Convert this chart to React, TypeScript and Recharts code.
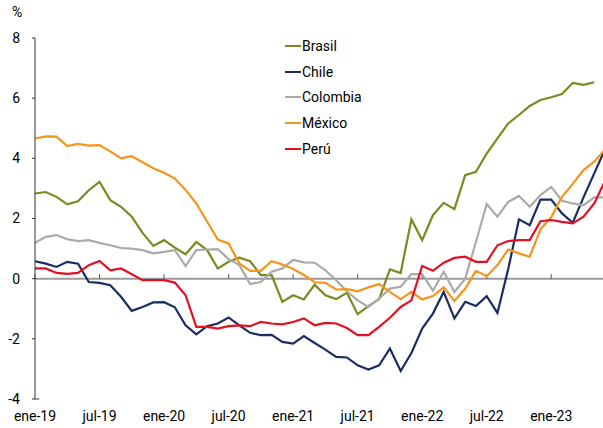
import { LineChart, Line, XAxis, YAxis, ReferenceLine, Legend } from 'recharts';

const months = [
  'ene-19', 'feb-19', 'mar-19', 'abr-19', 'may-19', 'jun-19', 'jul-19', 'ago-19', 'sep-19', 'oct-19', 'nov-19', 'dic-19',
  'ene-20', 'feb-20', 'mar-20', 'abr-20', 'may-20', 'jun-20', 'jul-20', 'ago-20', 'sep-20', 'oct-20', 'nov-20', 'dic-20',
  'ene-21', 'feb-21', 'mar-21', 'abr-21', 'may-21', 'jun-21', 'jul-21', 'ago-21', 'sep-21', 'oct-21', 'nov-21', 'dic-21',
  'ene-22', 'feb-22', 'mar-22', 'abr-22', 'may-22', 'jun-22', 'jul-22', 'ago-22', 'sep-22', 'oct-22', 'nov-22', 'dic-22',
  'ene-23', 'feb-23', 'mar-23', 'abr-23', 'may-23', 'jun-23',
];

const brasil = [
  2.83, 2.88, 2.72, 2.47, 2.57, 2.94, 3.22, 2.61, 2.39, 2.06, 1.52, 1.09,
  1.28, 1.03, 0.81, 1.22, 0.95, 0.34, 0.56, 0.7, 0.58, 0.12, 0.12, -0.77,
  -0.55, -0.69, -0.2, -0.55, -0.68, -0.47, -1.18, -0.91, -0.68, 0.31, 0.19, 1.97,
  1.28, 2.11, 2.52, 2.31, 3.44, 3.55, 4.16, 4.66, 5.16, 5.44, 5.74, 5.94,
  6.03, 6.14, 6.51, 6.44, 6.53,
];

const chile = [
  0.58, 0.5, 0.39, 0.56, 0.5, -0.11, -0.14, -0.22, -0.6, -1.07, -0.94, -0.79,
  -0.78, -0.95, -1.55, -1.85, -1.58, -1.49, -1.29, -1.55, -1.8, -1.88, -1.87, -2.1,
  -2.16, -1.91, -2.14, -2.36, -2.6, -2.62, -2.88, -3.02, -2.88, -2.32, -3.07, -2.47,
  -1.66, -1.16, -0.44, -1.32, -0.77, -0.91, -0.58, -1.14, 0.32, 1.97, 1.78, 2.63,
  2.63, 2.17, 1.86, 2.7, 3.5, 4.3,
];

const colombia = [
  1.19, 1.39, 1.45, 1.31, 1.25, 1.28, 1.19, 1.11, 1.02, 1.0, 0.95, 0.84,
  0.89, 0.95, 0.42, 0.95, 0.97, 0.98, 0.65, 0.45, -0.18, -0.11, 0.23, 0.34,
  0.62, 0.54, 0.53, 0.28, -0.05, -0.42, -0.72, -0.94, -0.66, -0.33, -0.27, 0.15,
  0.15, -0.4, 0.23, -0.44, 0.0, 1.22, 2.48, 2.06, 2.55, 2.75, 2.39, 2.78,
  3.05, 2.59, 2.5, 2.44, 2.7, 2.7,
];

const mexico = [
  4.66, 4.73, 4.72, 4.41, 4.48, 4.42, 4.44, 4.23, 4.0, 4.07, 3.87, 3.67,
  3.52, 3.33, 2.95, 2.5, 1.9, 1.3, 1.17, 0.51, 0.26, 0.26, 0.58, 0.47,
  0.32, 0.12, -0.12, -0.14, -0.36, -0.35, -0.42, -0.29, -0.18, -0.44, -0.68, -0.44,
  -0.69, -0.58, -0.29, -0.74, -0.33, 0.26, 0.08, 0.45, 0.97, 0.84, 0.73, 1.64,
  2.04, 2.72, 3.15, 3.61, 3.89, 4.3,
];

const peru = [
  0.34, 0.34, 0.19, 0.16, 0.19, 0.45, 0.59, 0.28, 0.34, 0.15, -0.05, -0.05,
  -0.05, -0.13, -0.55, -1.6, -1.6, -1.66, -1.58, -1.55, -1.58, -1.44, -1.49, -1.52,
  -1.44, -1.32, -1.55, -1.47, -1.49, -1.64, -1.88, -1.88, -1.6, -1.3, -0.94, -0.72,
  0.42, 0.26, 0.53, 0.69, 0.73, 0.56, 0.56, 1.11, 1.25, 1.28, 1.28, 1.91,
  1.95, 1.89, 1.84, 2.06, 2.5, 3.25,
];

const xTicks = [0, 6, 12, 18, 24, 30, 36, 42, 48];
const yTicks = [-4, -2, 0, 2, 4, 6, 8];

const series = [
  { key: 'brasil', name: 'Brasil', color: '#7a8a1e', values: brasil },
  { key: 'chile', name: 'Chile', color: '#1b2c63', values: chile },
  { key: 'colombia', name: 'Colombia', color: '#aaaaaa', values: colombia },
  { key: 'mexico', name: 'México', color: '#f7941d', values: mexico },
  { key: 'peru', name: 'Perú', color: '#e50f22', values: peru },
];

const data = months.map((m, i) => {
  const row: Record<string, number | string | null> = { i, m };
  series.forEach((s) => {
    row[s.key] = s.values[i] ?? null;
  });
  return row;
});

const font = 'Roboto, sans-serif';

const LegendBox = () => (
  <div style={{ fontFamily: font, fontSize: 14, color: '#000' }}>
    {series.map((s) => (
      <div key={s.key} style={{ display: 'flex', alignItems: 'center', height: 25.8 }}>
        <span style={{ display: 'inline-block', width: 16, height: 2, background: s.color, marginRight: 1 }} />
        <span>{s.name}</span>
      </div>
    ))}
  </div>
);

export default function App() {
  return (
    <div
      style={{
        position: 'fixed',
        left: 0,
        top: 0,
        width: 603,
        height: 428,
        overflow: 'hidden',
        background: '#fff',
      }}
    >
      <div style={{ position: 'absolute', left: 12, top: 4, fontFamily: font, fontSize: 14 }}>%</div>
      <LineChart width={612} height={428} data={data} margin={{ top: 38, right: 7, bottom: 0, left: 0 }}>
        <XAxis
          dataKey="i"
          type="number"
          domain={[0, 53]}
          ticks={xTicks}
          tickFormatter={(v: number) => months[v]}
          axisLine={false}
          tickLine={false}
          tickSize={6}
          tickMargin={6}
          height={29}
          interval={0}
          tick={{ fill: '#000', fontSize: 14, fontFamily: font }}
        />
        <YAxis
          type="number"
          domain={[-4, 8]}
          ticks={yTicks}
          width={35}
          axisLine={{ stroke: '#333', strokeWidth: 1 }}
          tickLine={{ stroke: '#333' }}
          tickSize={3}
          tickMargin={12}
          interval={0}
          tick={{ fill: '#000', fontSize: 14, fontFamily: font }}
        />
        <ReferenceLine y={0} stroke="#9a9a9a" strokeWidth={2} />
        {xTicks.map((t) => (
          <ReferenceLine
            key={t}
            segment={[
              { x: t, y: 0 },
              { x: t, y: 0.15 },
            ]}
            stroke="#555"
            strokeWidth={1}
          />
        ))}
        <ReferenceLine
          segment={[
            { x: 0, y: -4 },
            { x: 0.4, y: -4 },
          ]}
          stroke="#333"
          strokeWidth={1}
        />
        {series.map((s) => (
          <Line
            key={s.key}
            dataKey={s.key}
            name={s.name}
            stroke={s.color}
            strokeWidth={2.2}
            dot={false}
            type="linear"
            isAnimationActive={false}
          />
        ))}
        <Legend
          layout="vertical"
          align="center"
          verticalAlign="middle"
          content={() => <LegendBox />}
          wrapperStyle={{ position: 'absolute', left: 285, top: 33, width: 'auto', height: 'auto' }}
        />
      </LineChart>
    </div>
  );
}
